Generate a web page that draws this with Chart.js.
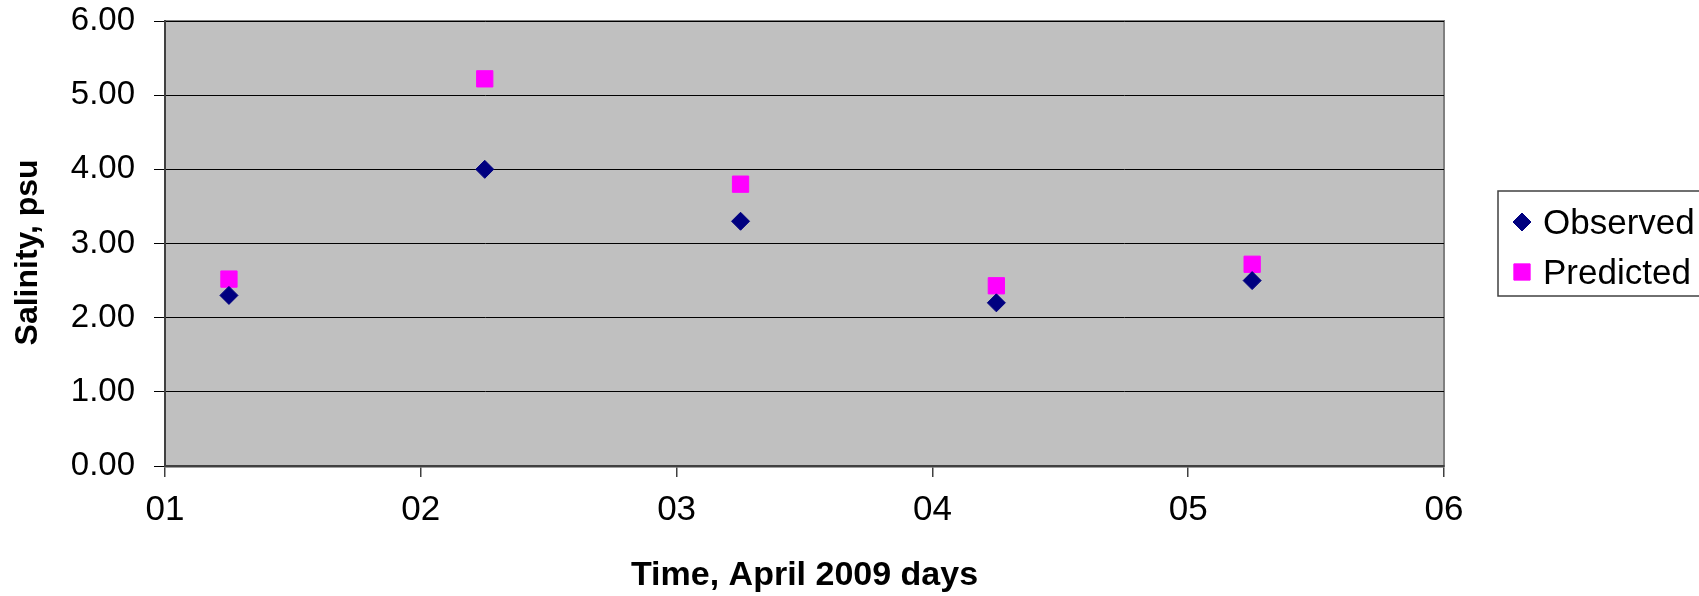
<!DOCTYPE html>
<html>
<head>
<meta charset="utf-8">
<title>Salinity</title>
<script src="https://cdn.jsdelivr.net/npm/chart.js@4/dist/chart.umd.min.js"></script>
<style>
  html, body { margin: 0; padding: 0; background: #fff; }
  #wrap { width: 1699px; height: 596px; }
</style>
</head>
<body>
<div id="wrap"><canvas id="salinity" width="1699" height="596"></canvas></div>
<script>
// sampling days (April 2009) and salinity readings
const days = [1.25, 2.25, 3.25, 4.25, 5.25];
const observed = [2.30, 4.00, 3.30, 2.20, 2.50];
const predicted = [2.52, 5.22, 3.80, 2.43, 2.72];
const dayTicks = ['01', '02', '03', '04', '05', '06'];

const FONT = '"Liberation Sans", Arial, sans-serif';

const toPoints = vals => vals.map((v, i) => ({ x: days[i], y: v }));

const datasets = [{
  label: 'Observed',
  data: toPoints(observed),
  pointStyle: 'rectRot',
  pointRadius: 9,
  pointBackgroundColor: '#000080',
  pointBorderColor: '#000080',
  pointBorderWidth: 1,
  showLine: false
}, {
  label: 'Predicted',
  data: toPoints(predicted),
  pointStyle: 'rect',
  pointRadius: 11.5,
  pointBackgroundColor: '#FF00FF',
  pointBorderColor: '#FF00FF',
  pointBorderWidth: 1,
  showLine: false
}];

// grey plot background with thin frame
const plotBack = {
  id: 'plotBack',
  beforeDraw(chart) {
    const { ctx, chartArea: a } = chart;
    ctx.save();
    ctx.fillStyle = '#C0C0C0';
    ctx.fillRect(a.left, a.top, a.right - a.left, a.bottom - a.top);
    ctx.strokeStyle = '#808080';
    ctx.lineWidth = 2;
    ctx.strokeRect(a.left, a.top, a.right - a.left, a.bottom - a.top);
    ctx.restore();
  }
};

// boxed legend on the right
const boxLegend = {
  id: 'boxLegend',
  afterDraw(chart) {
    const { ctx } = chart;
    const x0 = 1498, y0 = 191, w = 210, h = 105;
    ctx.save();
    ctx.fillStyle = '#fff';
    ctx.fillRect(x0, y0, w, h);
    ctx.strokeStyle = '#404040';
    ctx.lineWidth = 1.5;
    ctx.strokeRect(x0, y0, w, h);
    ctx.font = '35px ' + FONT;
    ctx.textBaseline = 'middle';
    ctx.textAlign = 'left';
    chart.data.datasets.forEach((ds, i) => {
      const cy = 222 + i * 50;
      ctx.fillStyle = ds.pointBackgroundColor;
      ctx.strokeStyle = ds.pointBorderColor;
      ctx.lineWidth = 1;
      Chart.helpers.drawPoint(ctx, {
        pointStyle: ds.pointStyle,
        radius: ds.pointStyle === 'rect' ? 11.5 : 9,
        borderWidth: 1,
        rotation: 0
      }, 1522, cy);
      ctx.fillStyle = '#000';
      ctx.fillText(ds.label, 1543, cy + 2);
    });
    ctx.restore();
  }
};

new Chart(document.getElementById('salinity'), {
  type: 'scatter',
  data: { datasets: datasets },
  options: {
    responsive: false,
    animation: false,
    layout: { padding: { top: 21, right: 255, left: 0, bottom: 0 } },
    plugins: {
      legend: { display: false },
      tooltip: { enabled: false }
    },
    scales: {
      x: {
        type: 'linear',
        min: 1,
        max: 6,
        afterFit(scale) {
          scale.height = 130;
          scale.paddingLeft = 0;
          scale.paddingRight = 0;
        },
        afterBuildTicks(scale) {
          scale.ticks = dayTicks.map((t, i) => ({ value: i + 1 }));
        },
        ticks: {
          color: '#000',
          padding: 12,
          font: { family: FONT, size: 35 },
          callback: (v) => dayTicks[v - 1]
        },
        grid: {
          drawOnChartArea: false,
          color: '#404040',
          tickLength: 11,
          lineWidth: 1.5
        },
        border: { color: '#404040', width: 2.5 },
        title: {
          display: true,
          text: 'Time, April 2009 days',
          color: '#000',
          padding: { top: 0, bottom: 0 },
          font: { family: FONT, size: 34, weight: 'bold' }
        }
      },
      y: {
        min: 0,
        max: 6,
        afterFit(scale) {
          scale.width = 165;
          // let the top label hang over the layout padding
          scale.paddingTop = 0;
          scale.paddingBottom = 0;
        },
        ticks: {
          stepSize: 1,
          color: '#000',
          padding: 19,
          font: { family: FONT, size: 33 },
          callback: (v) => v.toFixed(2)
        },
        grid: {
          color: '#000',
          lineWidth: 1,
          tickLength: 11
        },
        border: { color: '#404040', width: 2 },
        title: {
          display: true,
          // trailing spaces nudge the rotated title a little lower
          text: 'Salinity, psu  ',
          color: '#000',
          padding: { top: 9, bottom: 0 },
          font: { family: FONT, size: 32, weight: 'bold' }
        }
      }
    }
  },
  plugins: [plotBack, boxLegend]
});
</script>
</body>
</html>
